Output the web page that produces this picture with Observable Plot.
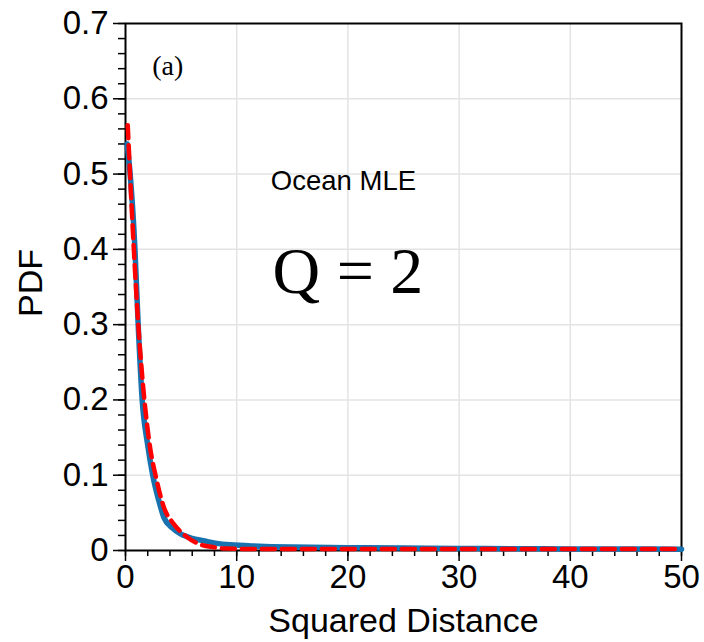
<!DOCTYPE html>
<html>
<head>
<meta charset="utf-8">
<script src="https://cdn.jsdelivr.net/npm/d3@7"></script>
<script src="https://cdn.jsdelivr.net/npm/@observablehq/plot@0.6"></script>
<style>
  html, body { margin: 0; padding: 0; background: #fff; }
  #chart svg { display: block; }
</style>
</head>
<body>
<div id="chart"></div>
<script>
// Empirical PDF (blue, solid)
const empX = [0.15, 0.42, 0.85, 1.14, 1.5, 2.0, 2.45, 3.0, 3.45, 4.2, 4.95, 6.0, 7.0, 8.2, 9.4, 12, 15, 20, 25, 30, 35, 40, 45, 50];
const empY = [0.54, 0.50, 0.40, 0.30, 0.20, 0.14, 0.10, 0.066, 0.044, 0.030, 0.022, 0.016, 0.013, 0.0095, 0.0075, 0.0058, 0.0047, 0.0038, 0.0032, 0.0027, 0.0024, 0.0021, 0.0019, 0.0018];
// Fitted PDF (red, dashed)
const fitX = [0.2, 0.75, 1.15, 1.7, 2.25, 2.7, 3.45, 4.35, 5.55, 6.74, 7.94, 9.0, 12, 20, 30, 40, 50];
const fitY = [0.565, 0.40, 0.30, 0.20, 0.133, 0.10, 0.0575, 0.035, 0.0177, 0.008, 0.0044, 0.0025, 0.002, 0.002, 0.002, 0.002, 0.002];

const xTicks = [0, 10, 20, 30, 40, 50];
const yTicks = [0, 0.1, 0.2, 0.3, 0.4, 0.5, 0.6, 0.7];
const yTickLabels = ["0", "0.1", "0.2", "0.3", "0.4", "0.5", "0.6", "0.7"];
const xMinor = d3.range(0, 50.001, 2);
const yMinor = d3.range(0, 0.7001, 0.02);
const gridX = [10, 20, 30, 40];
const gridY = [0.1, 0.2, 0.3, 0.4, 0.5, 0.6];

const panelLabel = "(a)";
const regionLabel = "Ocean MLE";
const qLabel = "Q = 2";
const xLabel = "Squared Distance";
const yLabel = "PDF";

const emp = empX.map((x, i) => ({x, y: empY[i]}));
const fit = fitX.map((x, i) => ({x, y: fitY[i]}));

const sans = "Liberation Sans, Arial, Helvetica, sans-serif";
const serif = "Liberation Serif, Times New Roman, serif";

const chart = Plot.plot({
  width: 704,
  height: 642,
  marginLeft: 125,
  marginRight: 23,
  marginTop: 23,
  marginBottom: 92,
  style: {fontFamily: sans, background: "#fff", overflow: "visible"},
  x: {domain: [0, 50]},
  y: {domain: [0, 0.7]},
  marks: [
    Plot.ruleX(gridX, {stroke: "#e3e3e3", strokeWidth: 1.5}),
    Plot.ruleY(gridY, {stroke: "#e3e3e3", strokeWidth: 1.5}),
    Plot.axisY(yMinor, {anchor: "left", tickSize: 7, text: null, label: null, stroke: "#000", strokeWidth: 1.5}),
    Plot.axisY(yTicks, {anchor: "left", tickSize: 12, tickPadding: 5, tickFormat: (d) => yTickLabels[yTicks.indexOf(d)], label: null, fontSize: 33, fill: "#000", stroke: "#000", strokeWidth: 1.5}),
    Plot.axisX(xMinor, {anchor: "bottom", tickSize: 6, text: null, label: null, stroke: "#000", strokeWidth: 1.5}),
    Plot.axisX(xTicks, {anchor: "bottom", tickSize: 11, tickPadding: 3, tickFormat: (d) => String(d), label: null, fontSize: 33, fill: "#000", stroke: "#000", strokeWidth: 1.5}),
    Plot.frame({stroke: "#000", strokeWidth: 2}),
    Plot.line(emp, {x: "x", y: "y", stroke: "#1872b0", strokeWidth: 5.5, curve: "monotone-x"}),
    Plot.line(fit, {x: "x", y: "y", stroke: "#ff0000", strokeWidth: 4.5, strokeDasharray: "13,7", curve: "monotone-x"}),
    Plot.text([panelLabel], {x: 3.8, y: 0.643, text: (d) => d, fontFamily: serif, fontSize: 28, fill: "#000"}),
    Plot.text([regionLabel], {x: 19.6, y: 0.49, text: (d) => d, fontFamily: sans, fontSize: 27.5, fill: "#000"}),
    Plot.text([qLabel], {x: 20, y: 0.37, text: (d) => d, fontFamily: serif, fontSize: 66, fill: "#000"}),
    Plot.text([yLabel], {frameAnchor: "left", dx: -94, dy: -4, rotate: -90, textAnchor: "middle", text: (d) => d, fontFamily: sans, fontSize: 34, fill: "#000"}),
    Plot.text([xLabel], {frameAnchor: "bottom", dy: 81, text: (d) => d, fontFamily: sans, fontSize: 34, fill: "#000"})
  ]
});
document.getElementById("chart").appendChild(chart);
</script>
</body>
</html>
